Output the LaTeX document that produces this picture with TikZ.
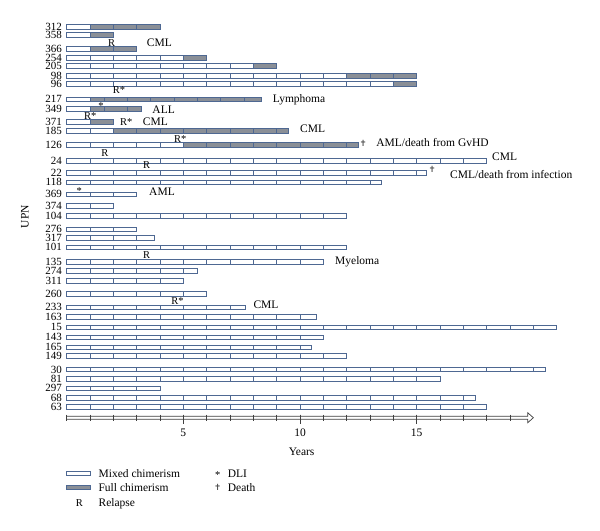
\documentclass[tikz,border=0pt]{standalone}
\usepackage{fontspec}
\setmainfont{Liberation Serif}
\newfontfamily\symfont{DejaVu Sans}
\definecolor{barblue}{RGB}{78,104,146}
\definecolor{fullgray}{RGB}{138,143,151}
\newcommand{\deathsym}{{\symfont\fontsize{8.5}{8.5}\selectfont\textcolor{black!70}{✝}}}
\tikzset{
  mixed/.style={draw=barblue,line width=0.7pt,fill=white},
  full/.style={draw=barblue,line width=0.7pt,fill=fullgray},
  cell/.style={draw=barblue,line width=0.6pt},
  upn/.style={anchor=base east,inner sep=0pt,yshift=-3.5pt,font=\fontsize{11}{11}\selectfont},
  note/.style={anchor=base west,inner sep=0pt,yshift=-3.8pt,font=\fontsize{11.5}{11.5}\selectfont},
  relapse/.style={anchor=base,inner sep=0pt,yshift=-3.4pt,font=\fontsize{10.5}{10.5}\selectfont},
  dli/.style={anchor=base,inner sep=0pt,yshift=-5.2pt,font=\fontsize{10.5}{10.5}\selectfont},
  death/.style={inner sep=0pt},
  axislabel/.style={inner sep=0pt,font=\fontsize{11.5}{11.5}\selectfont}
}

\begin{document}
\begin{tikzpicture}[x=23.333pt,y=-1pt]
  \useasboundingbox (-2.857,0) rectangle (22.857,530);
  % bars: y / UPN / end of mixed / end of full / offset of cells in full part
  \foreach \y/\n/\m/\e/\o in {26.7/312/1/4/0, 34.7/358/1/2/0, 49/366/1/3/0,
    57.7/254/5/6/0, 66/205/8/9/0, 75.7/98/12/15/0, 84/96/14/15/0,
    99.3/217/1/8.33/0.6, 109/349/1/3.22/0.6, 122/371/1/2/0, 131/185/2/9.5/0,
    145/126/5/12.5/0, 160.7/24/18/18/0, 172.7/22/15.4/15.4/0,
    182.3/118/13.5/13.5/0, 194.3/369/3/3/0, 206/374/2/2/0, 215.7/104/12/12/0,
    229.3/276/3/3/0, 237.7/317/3.75/3.75/0, 247.3/101/12/12/0,
    262/135/11/11/0, 271/274/5.6/5.6/0, 281/311/5/5/0, 294/260/6/6/0,
    307.3/233/7.66/7.66/0, 317/163/10.7/10.7/0, 327.3/15/21/21/0,
    337.3/143/11/11/0, 347.3/165/10.5/10.5/0, 356/149/12/12/0,
    369.5/30/20.5/20.5/0, 378.8/81/16/16/0, 388.3/297/4/4/0,
    397.7/68/17.5/17.5/0, 406.7/63/18/18/0}{
    \node[upn] (upn-\n) at (-0.2,\y) {\n};
    \draw[mixed] (0,\y-2.3) rectangle (\m,\y+2.3);
    \begin{scope}
      \clip (0,\y-2.3) rectangle (\m,\y+2.3);
      \foreach \k in {1,...,21} \draw[cell] (\k,\y-2.3) -- (\k,\y+2.3);
    \end{scope}
    \draw[full] (\m,\y-2.3) rectangle (\e,\y+2.3);
    \begin{scope}
      \clip (\m,\y-2.3) rectangle (\e,\y+2.3);
      \foreach \k in {0,...,21} \draw[cell] (\m+\o+\k,\y-2.3) -- (\m+\o+\k,\y+2.3);
    \end{scope}
  }

  % relapse, DLI and diagnoses
  \node[relapse] (r-358) at (1.93,42.7) {R};
  \node[note] (dx-358) at (3.43,42.7) {CML};
  \node[relapse] (r-217) at (2.24,90) {R*};
  \node[note] (dx-217) at (8.83,98.5) {Lymphoma};
  \node[dli] (dli-349) at (1.47,104) {*};
  \node[note] (dx-349) at (3.67,109.3) {ALL};
  \node[relapse] (r-371a) at (1.01,116) {R*};
  \node[relapse] (r-371b) at (2.55,122) {R*};
  \node[note] (dx-371) at (3.26,122) {CML};
  \node[note] (dx-185) at (10.0,128.3) {CML};
  \node[relapse] (r-126) at (4.87,139.3) {R*};
  \node[death] (d-126) at (12.71,143.3) {\deathsym};
  \node[note] (dx-126) at (13.26,143) {AML/death from GvHD};
  \node[relapse] (r-24) at (1.64,152.7) {R};
  \node[note] (dx-24) at (18.23,156.7) {CML};
  \node[relapse] (r-22) at (3.43,165) {R};
  \node[death] (d-22) at (15.67,169) {\deathsym};
  \node[note] (dx-22) at (16.43,175) {CML/death from infection};
  \node[dli] (dli-369) at (0.54,189) {*};
  \node[note] (dx-369) at (3.53,191.5) {AML};
  \node[relapse] (r-135) at (3.43,255) {R};
  \node[note] (dx-135) at (11.5,261) {Myeloma};
  \node[relapse] (r-233) at (4.75,300.7) {R*};
  \node[note] (dx-233) at (8.0,304.3) {CML};

  \node[axislabel,rotate=90] (upn) at (-1.79,216.7) {UPN};

  % time axis
  \fill[fullgray!70] (0,416.2) rectangle (19.76,419.2);
  \draw[line width=0.7pt,black!75,fill=white] (0,416.2) -- (19.76,416.2) -- (19.76,412.7)
    -- (20,417.7) -- (19.76,422.7) -- (19.76,419.2) -- (0,419.2);
  \foreach \t in {0,...,19} \draw[line width=0.7pt,black!75] (\t,414.5) -- (\t,421);
  \foreach \t in {5,10,15}{
    \draw[line width=0.7pt,black!75] (\t,414.5) -- (\t,424);
    \node[axislabel] (tick-\t) at (\t,432.7) {\t};
  }
  \node[axislabel] (years) at (10.07,451.7) {Years};

  % legend
  \draw[mixed] (0,471) rectangle (1,475.6);
  \node[note] (leg-mixed) at (1.36,473.3) {Mixed chimerism};
  \draw[full] (0,485) rectangle (1,489.6);
  \node[note] (leg-full) at (1.36,487.3) {Full chimerism};
  \node[relapse] (leg-r) at (0.54,502.7) {R};
  \node[note] (leg-relapse) at (1.36,502.7) {Relapse};
  \node[dli] (leg-star) at (6.47,473.5) {*};
  \node[note] (leg-dli) at (6.9,473.3) {DLI};
  \node[death] (leg-cross) at (6.47,487) {\deathsym};
  \node[note] (leg-death) at (6.9,487.3) {Death};
\end{tikzpicture}
\end{document}
